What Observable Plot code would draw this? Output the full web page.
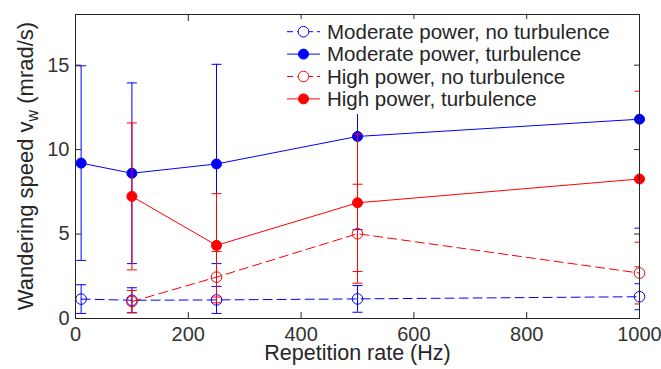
<!DOCTYPE html>
<html><head><meta charset="utf-8">
<script src="https://cdn.jsdelivr.net/npm/d3@7"></script>
<script src="https://cdn.jsdelivr.net/npm/@observablehq/plot@0.6"></script>
<style>body{margin:0;background:#fff}#chart{width:661px;height:369px}</style>
</head><body><div id="chart"></div>
<script>
// ---- data ----
const xTicks = [0, 200, 400, 600, 800, 1000];
const yTicks = [0, 5, 10, 15];
const seriesNames = [
  "Moderate power, no turbulence",
  "Moderate power, turbulence",
  "High power, no turbulence",
  "High power, turbulence"
];
const seriesColors = ["#0000ff", "#0000ff", "#ff0000", "#ff0000"];
const seriesDashed = [true, false, true, false];
const seriesFilled = [false, true, false, true];

const ratesModerate = [10, 100, 250, 500, 1000];
const ratesHigh = [100, 250, 500, 1000];

const modNoTurb = [1.15, 1.08, 1.1, 1.16, 1.29];
const modNoTurbErr = [0.85, 0.74, 0.8, 0.79, 0.77];
const modTurb = [9.2, 8.6, 9.15, 10.78, 11.8];
const modTurbErr = [5.76, 5.35, 5.9, 5.52, 6.45];
const highNoTurb = [1.0, 2.45, 5.02, 2.69];
const highNoTurbErr = [0.66, 1.52, 2.93, 1.83];
const highTurb = [7.23, 4.33, 6.85, 8.26];
const highTurbErr = [4.35, 3.06, 4.07, 5.2];

const xLabel = "Repetition rate (Hz)";
const yLabelMain = "Wandering speed v";
const yLabelSub = "w";
const yLabelUnit = " (mrad/s)";

// ---- build table ----
const seriesX = [ratesModerate, ratesModerate, ratesHigh, ratesHigh];
const seriesY = [modNoTurb, modTurb, highNoTurb, highTurb];
const seriesE = [modNoTurbErr, modTurbErr, highNoTurbErr, highTurbErr];
const series = seriesNames.map((name, i) => ({
  name, color: seriesColors[i], dashed: seriesDashed[i], filled: seriesFilled[i],
  rows: seriesX[i].map((x, j) => ({x, y: seriesY[i][j], lo: seriesY[i][j] - seriesE[i][j], hi: seriesY[i][j] + seriesE[i][j]}))
}));

const capSymbol = {draw(ctx, size) { const r = Math.sqrt(size / Math.PI); ctx.moveTo(-r, 0); ctx.lineTo(r, 0); }};
const axisColor = "#262626";
const dash = "9,5";
const fmt = d => String(d);

const marks = [];
for (const s of series) {
  marks.push(Plot.line(s.rows, {x: "x", y: "y", stroke: s.color, strokeWidth: 1, strokeDasharray: s.dashed ? dash : null}));
  marks.push(Plot.ruleX(s.rows, {x: "x", y1: "lo", y2: "hi", stroke: s.color, strokeWidth: 1, clip: true}));
  const caps = s.rows.flatMap(d => [{x: d.x, y: d.lo}, {x: d.x, y: d.hi}]);
  marks.push(Plot.dot(caps, {x: "x", y: "y", symbol: capSymbol, r: 5, fill: "none", stroke: s.color, strokeWidth: 1, clip: true}));
  marks.push(Plot.dot(s.rows, {x: "x", y: "y", r: s.filled ? 5 : 5.3, fill: s.filled ? s.color : "none", stroke: s.color, strokeWidth: 1}));
}

const plot = Plot.plot({
  width: 661, height: 369,
  marginLeft: 75, marginRight: 22, marginTop: 14, marginBottom: 51,
  style: {fontFamily: "'Liberation Sans', Arial, Helvetica, sans-serif", background: "white", overflow: "visible"},
  x: {domain: [0, 1000], label: null},
  y: {domain: [0, 18], label: null},
  marks: [
    ...marks,
    Plot.axisX(xTicks, {anchor: "bottom", tickSize: 6, dy: -6, stroke: axisColor, fill: "none", label: null}),
    Plot.axisX(xTicks, {anchor: "top", tickSize: 6, dy: 6, stroke: axisColor, fill: "none", label: null}),
    Plot.axisY(yTicks, {anchor: "left", tickSize: 6, dx: 6, stroke: axisColor, fill: "none", label: null}),
    Plot.axisY(yTicks, {anchor: "right", tickSize: 6, dx: -6, stroke: axisColor, fill: "none", label: null}),
    Plot.axisX(xTicks, {anchor: "bottom", tickSize: 0, tickPadding: 8, fontSize: 20, fill: "#333", label: null, tickFormat: fmt}),
    Plot.axisY(yTicks, {anchor: "left", tickSize: 0, tickPadding: 6, fontSize: 20, fill: "#333", label: null, tickFormat: fmt}),
    Plot.frame({stroke: axisColor, strokeWidth: 1}),
    Plot.text([xLabel], {frameAnchor: "bottom", text: d => d, dy: 41, fontSize: 21.5, fill: axisColor})
  ]
});
document.getElementById("chart").appendChild(plot);

// ---- y label with subscript ----
const svg = d3.select(plot);
const ys = plot.scale("y");
const xs = plot.scale("x");
const yMid = (ys.apply(0) + ys.apply(18)) / 2;
const yl = svg.append("text")
  .attr("transform", `translate(33,${yMid}) rotate(-90)`)
  .attr("text-anchor", "middle")
  .attr("font-size", 22)
  .attr("fill", axisColor);
yl.append("tspan").text(yLabelMain);
yl.append("tspan").attr("font-size", 16).attr("dy", 5).text(yLabelSub);
yl.append("tspan").attr("dy", -5).text(yLabelUnit);

// ---- legend (inside plot, top-right) ----
const lx = xs.apply(0) + 212; // legend left
const lg = svg.append("g").attr("text-anchor", "start");
lg.append("rect").attr("x", lx - 7).attr("y", 19).attr("width", 345).attr("height", 95).attr("fill", "white");
series.forEach((s, i) => {
  const cy = 31.7 + i * 22.4;
  lg.append("line").attr("x1", lx).attr("x2", lx + 33).attr("y1", cy).attr("y2", cy)
    .attr("stroke", s.color).attr("stroke-width", 1).attr("stroke-dasharray", s.dashed ? "6,4" : null);
  lg.append("circle").attr("cx", lx + 16.5).attr("cy", cy).attr("r", s.filled ? 5 : 5.3)
    .attr("fill", s.filled ? s.color : "white").attr("stroke", s.color);
  lg.append("text").attr("x", lx + 40).attr("y", cy).attr("dy", "0.35em")
    .attr("font-size", 20.5).attr("fill", axisColor).text(s.name);
});
</script>
</body></html>
